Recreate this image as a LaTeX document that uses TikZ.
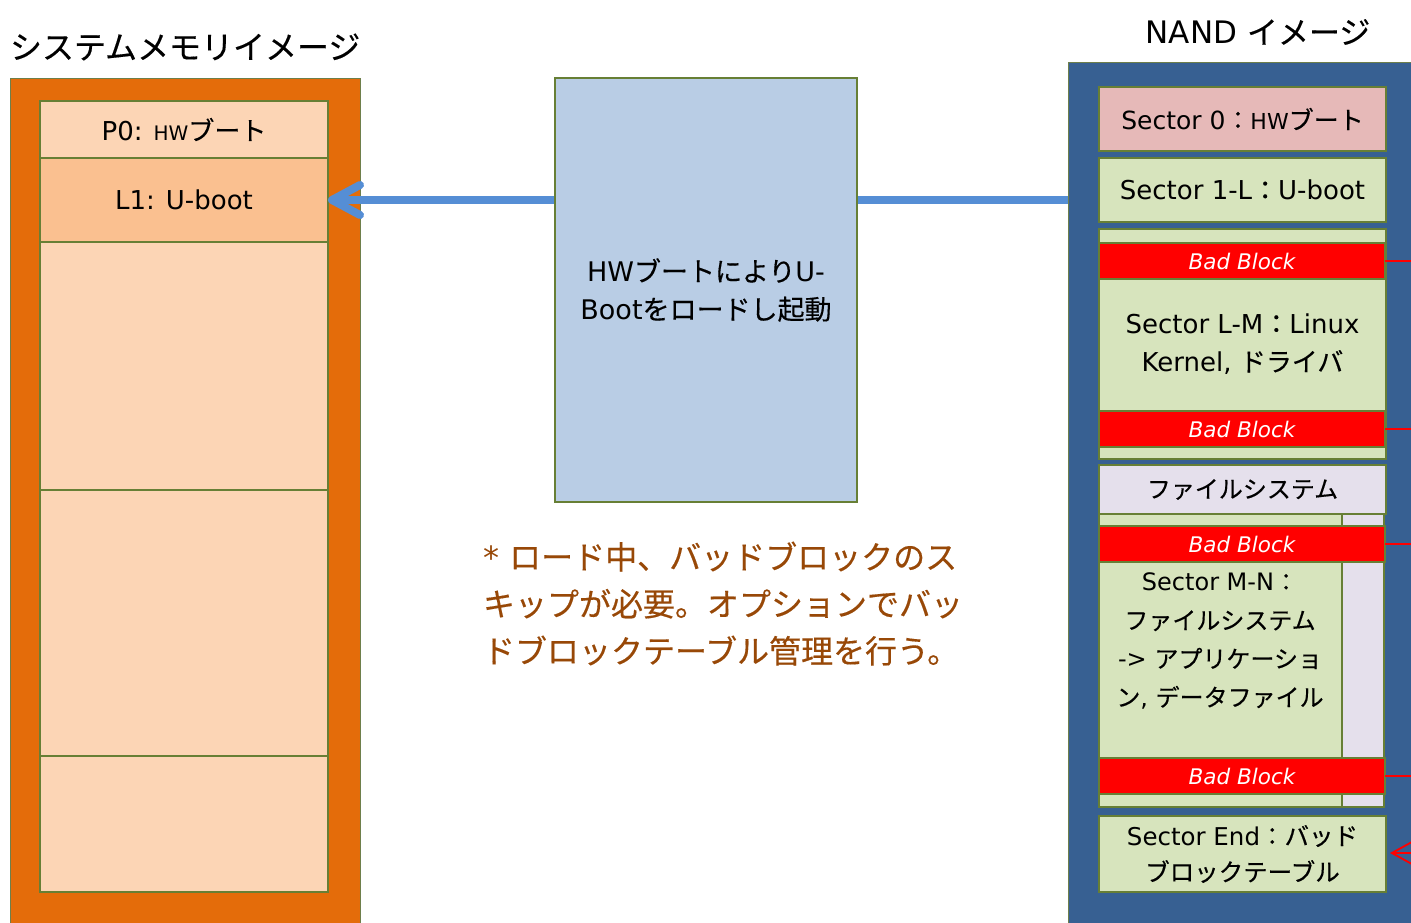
\documentclass[tikz,border=0pt]{standalone}
\usepackage{fontspec}
\setmainfont{DejaVu Sans}
\newfontfamily\jpf{Noto Sans CJK JP}[FakeBold=0.35]
\newcommand\jp[1]{{\jpf #1}}
\usetikzlibrary{arrows.meta}
\definecolor{orangeD}{HTML}{E46C0A}
\definecolor{peach}{HTML}{FCD5B5}
\definecolor{peachD}{HTML}{FAC090}
\definecolor{edgec}{HTML}{677F35}
\definecolor{navy}{HTML}{376092}
\definecolor{pinkc}{HTML}{E6B9B8}
\definecolor{greenc}{HTML}{D7E4BD}
\definecolor{lavc}{HTML}{E5E0EC}
\definecolor{blueL}{HTML}{B9CDE5}
\definecolor{arrowc}{HTML}{558ED5}
\definecolor{brownc}{HTML}{984807}
\definecolor{redc}{HTML}{FF0000}
\begin{document}
\begin{tikzpicture}[x=1pt,y=-1pt,
  box/.style={draw=edgec, line width=1.2pt, inner sep=0pt, outer sep=0pt,
    anchor=north west, align=center, font=\fontsize{26}{38}\selectfont},
  outerbox/.style={draw=edgec!70!gray, line width=1pt, inner sep=0pt, outer sep=0pt, anchor=north west},
  bad/.style={draw=edgec, line width=1.2pt, fill=redc, text=white, inner sep=0pt, outer sep=0pt,
    anchor=north west, minimum width=286pt, minimum height=36pt,
    font=\fontsize{21.5}{21.5}\selectfont\itshape},
  redl/.style={draw=redc, line width=1.8pt},
  barrow/.style={draw=arrowc, line width=8pt, -{Straight Barb[length=28pt,width=30pt,round]}},
  lbl/.style={inner sep=0pt, outer sep=0pt}
]
\useasboundingbox (0,0) rectangle (1411,922);
\clip (0,0) rectangle (1411,922);
\fill[white] (0,0) rectangle (1411,922);

% system memory image
\node[outerbox, fill=orangeD, minimum width=350pt, minimum height=870pt] (mem) at (10,78) {};
\node[box, fill=peach, minimum width=288pt, minimum height=57pt] (p0) at (40,101)
  {P0: {\fontsize{20}{20}\selectfont HW}\jp{ブート}};
\node[box, fill=peachD, minimum width=288pt, minimum height=84pt] (l1) at (40,158) {L1: U-boot};
\node[box, fill=peach, minimum width=288pt, minimum height=248pt] (m2) at (40,242) {};
\node[box, fill=peach, minimum width=288pt, minimum height=266pt] (m3) at (40,490) {};
\node[box, fill=peach, minimum width=288pt, minimum height=136pt] (m4) at (40,756) {};

% NAND image
\node[outerbox, fill=navy, minimum width=380pt, minimum height=880pt] (nand) at (1068,62) {};
\node[box, fill=pinkc, minimum width=287pt, minimum height=64pt, font=\fontsize{25}{38}\selectfont] (s0) at (1099,87)
  {Sector 0\jp{：}{\fontsize{22}{22}\selectfont HW}\jp{ブート}};
\node[box, fill=greenc, minimum width=287pt, minimum height=64pt] (s1) at (1099,158)
  {Sector 1-L\jp{：}U-boot};
\node[box, fill=greenc, minimum width=287pt, minimum height=230pt] (slm) at (1099,229)
  {Sector L-M\jp{：}Linux\\Kernel, \jp{ドライバ}};
\node[bad] (bb1) at (1099,243) {Bad Block};
\node[bad] (bb2) at (1099,411) {Bad Block};
\node[box, fill=lavc, minimum width=287pt, minimum height=49pt, font=\fontsize{24}{30}\selectfont] (fs) at (1099,465) {\jp{ファイルシステム}};
\node[box, fill=lavc, minimum width=285pt, minimum height=293pt] (fsa) at (1099,514) {};
\node[box, fill=greenc, minimum width=243pt, minimum height=293pt] (smn) at (1099,514) {};
\node[lbl, align=center, font=\fontsize{24}{38.5}\selectfont] (smnt) at (1220,641)
  {Sector M-N\jp{：}\\\jp{ファイルシステム}\\-> \jp{アプリケーショ}\\\jp{ン}, \jp{データファイル}};
\node[bad] (bb3) at (1099,526) {Bad Block};
\node[bad] (bb4) at (1099,758) {Bad Block};
\node[box, fill=greenc, minimum width=287pt, minimum height=76pt, font=\fontsize{24.5}{36}\selectfont] (send) at (1099,816)
  {Sector End\jp{：}\jp{バッド}\\\jp{ブロックテーブル}};

% red links to bad block table
\coordinate (redx) at (1440,853);
\draw[redl] (bb1.east) -- (bb1.east -| redx);
\draw[redl] (bb2.east) -- (bb2.east -| redx);
\draw[redl] (bb3.east) -- (bb3.east -| redx);
\draw[redl] (bb4.east) -- (bb4.east -| redx);
\draw[redl, -{Straight Barb[length=20pt,width=22pt]}, shorten >=4pt] (redx) -- (redx -| send.east);

% blue load arrow
\draw[barrow] (nand.west |- l1.east) -- (l1.east);

% middle box
\node[box, fill=blueL, minimum width=302pt, minimum height=424pt, font=\fontsize{27}{38}\selectfont] (hw) at (555,78)
  {HW\jp{ブートにより}U-\\Boot\jp{をロードし起動}};

% titles
\node[lbl, anchor=west, font=\fontsize{32}{32}\selectfont] (t1) at (10,47) {\jp{システムメモリイメージ}};
\node[lbl, font=\fontsize{31}{31}\selectfont] (t2) at (1258,32) {NAND \jp{イメージ}};

% note
\node[lbl, anchor=base west, align=left, text=brownc, font=\fontsize{32}{47}\selectfont] (note) at (483,663)
  {* \jp{ロード中、バッドブロックのス}\\\jp{キップが必要。オプションでバッ}\\\jp{ドブロックテーブル管理を行う。}};
\end{tikzpicture}
\end{document}
